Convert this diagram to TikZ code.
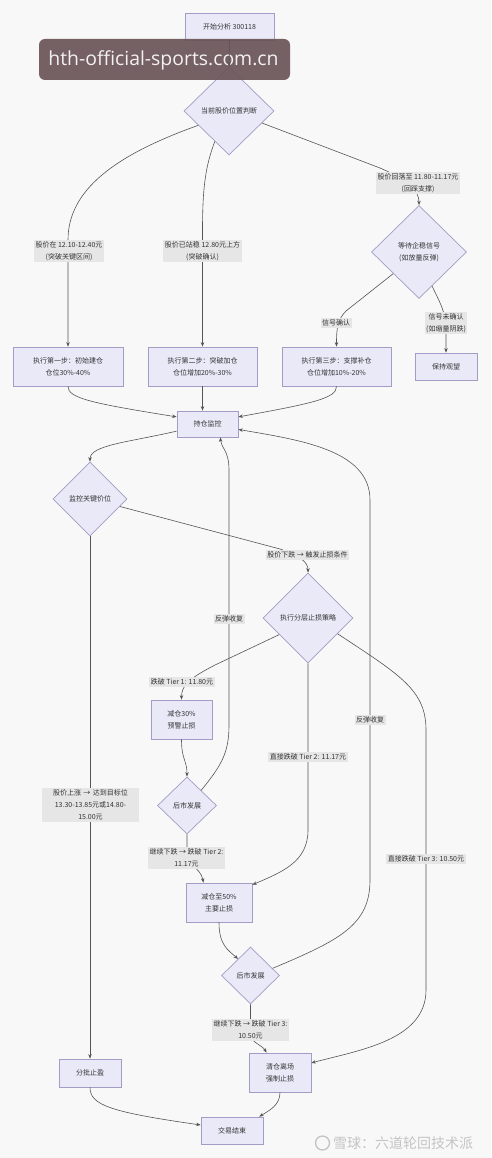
\documentclass[tikz,border=0pt]{standalone}
\usepackage{fontspec}
\setmainfont{Noto Sans CJK SC}
\newfontfamily\wmfont{Open Sans}
\usetikzlibrary{shapes.geometric,arrows.meta}
\definecolor{bgc}{HTML}{F7F8F7}
\definecolor{nodefill}{HTML}{E9E9F8}
\definecolor{nodeborder}{HTML}{A49CC4}
\definecolor{linec}{HTML}{555555}
\definecolor{lblfill}{HTML}{E6E6E6}
\definecolor{textc}{HTML}{333333}
\definecolor{banner}{HTML}{6A5458}
\definecolor{wmgrey}{HTML}{C4C4C4}
\begin{document}
\begin{tikzpicture}[x=1pt,y=-1pt,
  every node/.style={text=textc},
  box/.style={draw=nodeborder, fill=nodefill, line width=0.7pt, font=\fontsize{7}{12}\selectfont, align=center, inner sep=0pt},
  dia/.style={diamond, draw=nodeborder, fill=nodefill, line width=0.7pt, font=\fontsize{7}{12}\selectfont, align=center, inner sep=0pt},
  lbl/.style={fill=lblfill, font=\fontsize{7}{12}\selectfont, align=center, inner sep=1.5pt},
  arr/.style={draw=linec, line width=0.6pt, -{Stealth[length=4.5pt,width=3.5pt]}}
]
\fill[bgc] (0,0) rectangle (491,1158);
\useasboundingbox (0,0) rectangle (491,1158);

% nodes
\node[box, minimum width=89pt, minimum height=27pt] (start) at (229.5,26.5) {开始分析 300118};
\node[dia, minimum width=90pt, minimum height=88pt] (d1) at (229,111) {当前股价位置判断};
\node[dia, minimum width=95pt, minimum height=93pt] (d2) at (419,252) {等待企稳信号\\(如放量反弹)};
\node[box, minimum width=110pt, minimum height=39pt] (b1) at (68,366.5) {执行第一步：初始建仓\\仓位30\%-40\%};
\node[box, minimum width=109pt, minimum height=39pt] (b2) at (202.5,366.5) {执行第二步：突破加仓\\仓位增加20\%-30\%};
\node[box, minimum width=109pt, minimum height=39pt] (b3) at (336.5,366.5) {执行第三步：支撑补仓\\仓位增加10\%-20\%};
\node[box, minimum width=62pt, minimum height=27pt] (b4) at (446,366.5) {保持观望};
\node[box, minimum width=61pt, minimum height=26pt] (hold) at (207.5,424) {持仓监控};
\node[dia, minimum width=74pt, minimum height=74pt] (mon) at (90,499) {监控关键价位};
\node[dia, minimum width=90pt, minimum height=90pt] (strat) at (308,618) {执行分层止损策略};
\node[box, minimum width=61pt, minimum height=39pt] (r1) at (181.5,719.5) {减仓30\%\\预警止损};
\node[dia, minimum width=59pt, minimum height=57pt] (p1) at (187,805.5) {后市发展};
\node[box, minimum width=66pt, minimum height=39pt] (r2) at (219,902.5) {减仓至50\%\\主要止损};
\node[dia, minimum width=58pt, minimum height=57pt] (p2) at (250.5,975.5) {后市发展};
\node[box, minimum width=62pt, minimum height=39pt] (r3) at (280,1072.5) {清仓离场\\强制止损};
\node[box, minimum width=62pt, minimum height=28pt] (pz) at (90,1073) {分批止盈};
\node[box, minimum width=62pt, minimum height=27pt] (fin) at (232,1130.5) {交易结束};

% connectors
\draw[arr] (d1.205) .. controls (115,155) and (68,190) .. (68,240) -- (b1.north);
\draw[arr] (d1.245) .. controls (206,165) and (202.5,185) .. (202.5,230) -- (b2.north);
\draw[arr] (d1.340) -- (380,168) .. controls (408,180) and (419,190) .. (d2.north);
\draw[arr] (d2.220) -- (346,311) .. controls (337,320) and (336.5,330) .. (b3.north);
\draw[arr] (d2.291) .. controls (440,303) and (446,312) .. (446,330) -- (b4.north);
\draw[arr] (b1.south) .. controls (68,398) and (90,403) .. (hold.167);
\draw[arr] (b2.south) -- (b2.south |- hold.north);
\draw[arr] (b3.south) .. controls (336.5,398) and (315,403) .. (hold.13);
\draw[arr] (hold.193) .. controls (130,442) and (90,445) .. (mon.north);
\draw[arr] (mon.346) -- (280,549) .. controls (300,556) and (308,562) .. (strat.north);
\draw[arr] (mon.south) -- (mon.south |- pz.north);
\draw[arr] (strat.210) -- (215,665) .. controls (190,678) and (181.5,685) .. (r1.north);
\draw[arr] (strat.south) -- (308,830) .. controls (308,862) and (282,872) .. (r2.28);
\draw[arr] (strat.332) .. controls (400,675) and (426,690) .. (426,730) -- (426,990) .. controls (426,1040) and (360,1050) .. (r3.17);
\draw[arr] (r1.south) .. controls (181.5,760) and (187,760) .. (p1.north);
\draw[arr] (p1.47) .. controls (222,765) and (229,752) .. (229,725) -- (229,470) .. controls (229,450) and (221,448) .. (hold.-46);
\draw[arr] (p1.south) -- (187,850) .. controls (187,868) and (200,866) .. (r2.128);
\draw[arr] (r2.south) .. controls (219,945) and (228,950) .. (p2.127);
\draw[arr] (p2.18) .. controls (340,940) and (370,925) .. (370,880) -- (370,500) .. controls (370,450) and (300,440) .. (hold.-10);
\draw[arr] (p2.south) -- (250.5,1035) .. controls (250.5,1042) and (262,1045) .. (r3.124);
\draw[arr] (pz.south) .. controls (90,1105) and (110,1112) .. (fin.170);
\draw[arr] (r3.south) .. controls (280,1105) and (270,1110) .. (fin.27);

% edge labels
\node[lbl] (l1) at (69,251) {股价在 12.10-12.40元\\(突破关键区间)};
\node[lbl] (l2) at (202.5,251) {股价已站稳 12.80元上方\\(突破确认)};
\node[lbl] (l3) at (418,183) {股价回落至 11.80-11.17元\\(回踩支撑)};
\node[lbl] (l4) at (336,323) {信号确认};
\node[lbl] (l5) at (446,323) {信号未确认\\(如缩量阴跌)};
\node[lbl] (l6) at (307.5,555) {股价下跌 → 触发止损条件};
\node[lbl] (l7) at (229,619) {反弹收复};
\node[lbl] (l8) at (182,682) {跌破 Tier 1: 11.80元};
\node[lbl] (l9) at (308,757) {直接跌破 Tier 2: 11.17元};
\node[lbl] (l10) at (370,720) {反弹收复};
\node[lbl, text width=94pt] (l11) at (90.5,805) {股价上涨 → 达到目标位\\13.30-13.85元或14.80-\\15.00元};
\node[lbl] (l12) at (186.5,858) {继续下跌 → 跌破 Tier 2:\\11.17元};
\node[lbl] (l13) at (426,859) {直接跌破 Tier 3: 10.50元};
\node[lbl] (l14) at (250.5,1030) {继续下跌 → 跌破 Tier 3:\\10.50元};

% watermarks
\fill[banner, fill opacity=0.92, rounded corners=6pt] (39,39) rectangle (290,80);
\node[text=white!92!banner, font=\wmfont\fontsize{19.4}{19.4}\selectfont, inner sep=0pt] (wm) at (163.5,60) {hth-official-sports.com.cn};
\draw[arr] (start.south) -- (d1.north);
\draw[wmgrey, line width=1.3pt] (322.5,1143) circle (7pt);
\node[text=wmgrey, font=\fontsize{14}{14}\selectfont, anchor=west, inner sep=0pt] (wm2) at (333,1143) {雪球：六道轮回技术派};
\end{tikzpicture}
\end{document}
